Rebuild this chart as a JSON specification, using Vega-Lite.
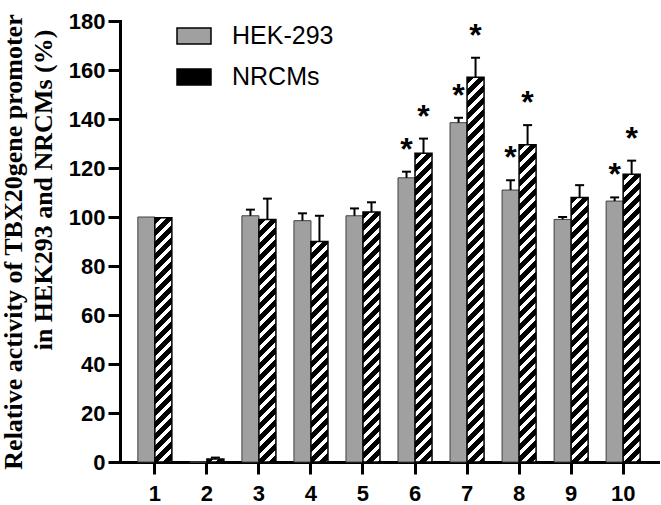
{
  "$schema": "https://vega.github.io/schema/vega-lite/v6.json",
  "width": 538,
  "height": 441,
  "autosize": {"type": "none"},
  "padding": {"left": 120, "top": 21, "right": 3, "bottom": 43},
  "background": "white",
  "params": [
    {"name": "stripes", "value": [
{"offset":0,"color":"#000"},{"offset":0.01716,"color":"#000"},{"offset":0.01716,"color":"#fff"},{"offset":0.02941,"color":"#fff"},
{"offset":0.02941,"color":"#000"},{"offset":0.04657,"color":"#000"},{"offset":0.04657,"color":"#fff"},{"offset":0.05882,"color":"#fff"},
{"offset":0.05882,"color":"#000"},{"offset":0.07598,"color":"#000"},{"offset":0.07598,"color":"#fff"},{"offset":0.08824,"color":"#fff"},
{"offset":0.08824,"color":"#000"},{"offset":0.10539,"color":"#000"},{"offset":0.10539,"color":"#fff"},{"offset":0.11765,"color":"#fff"},
{"offset":0.11765,"color":"#000"},{"offset":0.1348,"color":"#000"},{"offset":0.1348,"color":"#fff"},{"offset":0.14706,"color":"#fff"},
{"offset":0.14706,"color":"#000"},{"offset":0.16422,"color":"#000"},{"offset":0.16422,"color":"#fff"},{"offset":0.17647,"color":"#fff"},
{"offset":0.17647,"color":"#000"},{"offset":0.19363,"color":"#000"},{"offset":0.19363,"color":"#fff"},{"offset":0.20588,"color":"#fff"},
{"offset":0.20588,"color":"#000"},{"offset":0.22304,"color":"#000"},{"offset":0.22304,"color":"#fff"},{"offset":0.23529,"color":"#fff"},
{"offset":0.23529,"color":"#000"},{"offset":0.25245,"color":"#000"},{"offset":0.25245,"color":"#fff"},{"offset":0.26471,"color":"#fff"},
{"offset":0.26471,"color":"#000"},{"offset":0.28186,"color":"#000"},{"offset":0.28186,"color":"#fff"},{"offset":0.29412,"color":"#fff"},
{"offset":0.29412,"color":"#000"},{"offset":0.31127,"color":"#000"},{"offset":0.31127,"color":"#fff"},{"offset":0.32353,"color":"#fff"},
{"offset":0.32353,"color":"#000"},{"offset":0.34069,"color":"#000"},{"offset":0.34069,"color":"#fff"},{"offset":0.35294,"color":"#fff"},
{"offset":0.35294,"color":"#000"},{"offset":0.3701,"color":"#000"},{"offset":0.3701,"color":"#fff"},{"offset":0.38235,"color":"#fff"},
{"offset":0.38235,"color":"#000"},{"offset":0.39951,"color":"#000"},{"offset":0.39951,"color":"#fff"},{"offset":0.41176,"color":"#fff"},
{"offset":0.41176,"color":"#000"},{"offset":0.42892,"color":"#000"},{"offset":0.42892,"color":"#fff"},{"offset":0.44118,"color":"#fff"},
{"offset":0.44118,"color":"#000"},{"offset":0.45833,"color":"#000"},{"offset":0.45833,"color":"#fff"},{"offset":0.47059,"color":"#fff"},
{"offset":0.47059,"color":"#000"},{"offset":0.48775,"color":"#000"},{"offset":0.48775,"color":"#fff"},{"offset":0.5,"color":"#fff"},
{"offset":0.5,"color":"#000"},{"offset":0.51716,"color":"#000"},{"offset":0.51716,"color":"#fff"},{"offset":0.52941,"color":"#fff"},
{"offset":0.52941,"color":"#000"},{"offset":0.54657,"color":"#000"},{"offset":0.54657,"color":"#fff"},{"offset":0.55882,"color":"#fff"},
{"offset":0.55882,"color":"#000"},{"offset":0.57598,"color":"#000"},{"offset":0.57598,"color":"#fff"},{"offset":0.58824,"color":"#fff"},
{"offset":0.58824,"color":"#000"},{"offset":0.60539,"color":"#000"},{"offset":0.60539,"color":"#fff"},{"offset":0.61765,"color":"#fff"},
{"offset":0.61765,"color":"#000"},{"offset":0.6348,"color":"#000"},{"offset":0.6348,"color":"#fff"},{"offset":0.64706,"color":"#fff"},
{"offset":0.64706,"color":"#000"},{"offset":0.66422,"color":"#000"},{"offset":0.66422,"color":"#fff"},{"offset":0.67647,"color":"#fff"},
{"offset":0.67647,"color":"#000"},{"offset":0.69363,"color":"#000"},{"offset":0.69363,"color":"#fff"},{"offset":0.70588,"color":"#fff"},
{"offset":0.70588,"color":"#000"},{"offset":0.72304,"color":"#000"},{"offset":0.72304,"color":"#fff"},{"offset":0.73529,"color":"#fff"},
{"offset":0.73529,"color":"#000"},{"offset":0.75245,"color":"#000"},{"offset":0.75245,"color":"#fff"},{"offset":0.76471,"color":"#fff"},
{"offset":0.76471,"color":"#000"},{"offset":0.78186,"color":"#000"},{"offset":0.78186,"color":"#fff"},{"offset":0.79412,"color":"#fff"},
{"offset":0.79412,"color":"#000"},{"offset":0.81127,"color":"#000"},{"offset":0.81127,"color":"#fff"},{"offset":0.82353,"color":"#fff"},
{"offset":0.82353,"color":"#000"},{"offset":0.84069,"color":"#000"},{"offset":0.84069,"color":"#fff"},{"offset":0.85294,"color":"#fff"},
{"offset":0.85294,"color":"#000"},{"offset":0.8701,"color":"#000"},{"offset":0.8701,"color":"#fff"},{"offset":0.88235,"color":"#fff"},
{"offset":0.88235,"color":"#000"},{"offset":0.89951,"color":"#000"},{"offset":0.89951,"color":"#fff"},{"offset":0.91176,"color":"#fff"},
{"offset":0.91176,"color":"#000"},{"offset":0.92892,"color":"#000"},{"offset":0.92892,"color":"#fff"},{"offset":0.94118,"color":"#fff"},
{"offset":0.94118,"color":"#000"},{"offset":0.95833,"color":"#000"},{"offset":0.95833,"color":"#fff"},{"offset":0.97059,"color":"#fff"},
{"offset":0.97059,"color":"#000"},{"offset":0.98775,"color":"#000"},{"offset":0.98775,"color":"#fff"},{"offset":1,"color":"#fff"}
    ]}
  ],
  "data": {"values": [
    {"group": 1, "cell": "HEK-293", "value": 100, "upper": 100, "sig": false},
    {"group": 1, "cell": "NRCMs", "value": 99.7, "upper": 99.7, "sig": false},
    {"group": 2, "cell": "HEK-293", "value": 0, "upper": 0, "sig": false},
    {"group": 2, "cell": "NRCMs", "value": 1.2, "upper": 1.8, "sig": false},
    {"group": 3, "cell": "HEK-293", "value": 100.5, "upper": 103, "sig": false},
    {"group": 3, "cell": "NRCMs", "value": 99, "upper": 107.5, "sig": false},
    {"group": 4, "cell": "HEK-293", "value": 98.5, "upper": 101.5, "sig": false},
    {"group": 4, "cell": "NRCMs", "value": 90, "upper": 100.5, "sig": false},
    {"group": 5, "cell": "HEK-293", "value": 100.5, "upper": 103.5, "sig": false},
    {"group": 5, "cell": "NRCMs", "value": 102, "upper": 106, "sig": false},
    {"group": 6, "cell": "HEK-293", "value": 116, "upper": 118.5, "sig": true},
    {"group": 6, "cell": "NRCMs", "value": 126, "upper": 132, "sig": true},
    {"group": 7, "cell": "HEK-293", "value": 138.5, "upper": 140.5, "sig": true},
    {"group": 7, "cell": "NRCMs", "value": 157, "upper": 165, "sig": true},
    {"group": 8, "cell": "HEK-293", "value": 111, "upper": 115, "sig": true},
    {"group": 8, "cell": "NRCMs", "value": 129.5, "upper": 137.5, "sig": true},
    {"group": 9, "cell": "HEK-293", "value": 99, "upper": 100, "sig": false},
    {"group": 9, "cell": "NRCMs", "value": 108, "upper": 113, "sig": false},
    {"group": 10, "cell": "HEK-293", "value": 106.5, "upper": 108, "sig": true},
    {"group": 10, "cell": "NRCMs", "value": 117.5, "upper": 123, "sig": true}
  ]},
  "encoding": {
    "x": {"field": "group", "type": "ordinal", "scale": {"paddingInner": 0, "paddingOuter": 0.17}, "axis": {"title": null, "labelAngle": 0, "labelPadding": 9}},
    "xOffset": {"field": "cell", "type": "nominal", "scale": {"domain": ["HEK-293", "NRCMs"], "paddingInner": 0, "paddingOuter": 0.53}},
    "y": {"field": "value", "type": "quantitative", "scale": {"domain": [0, 180], "nice": false},
      "axis": {"values": [0, 20, 40, 60, 80, 100, 120, 140, 160, 180],
        "title": ["Relative activity of TBX20gene promoter", "\u200b\u00a0\u00a0\u00a0\u00a0\u00a0\u00a0\u00a0\u00a0\u00a0\u00a0\u00a0\u00a0\u00a0\u00a0\u00a0\u00a0in HEK293 and NRCMs (%)"]}}
  },
  "layer": [
    {
      "transform": [{"filter": "datum.cell === 'HEK-293'"}],
      "mark": {"type": "bar", "stroke": "#404040", "strokeWidth": 1},
      "encoding": {
        "fill": {"field": "cell", "type": "nominal",
          "scale": {"domain": ["HEK-293", "NRCMs"], "range": ["#a0a0a0", "#000000"]},
          "legend": {"orient": "none", "legendX": 56, "legendY": -3, "title": null, "padding": 0,
            "symbolType": "M-1,-0.47H1V0.47H-1Z", "symbolSize": 1156,
            "labelFont": "Liberation Sans", "labelFontSize": 25, "labelColor": "#000", "labelOffset": 20,
            "rowPadding": 10, "symbolStrokeColor": "#000", "symbolStrokeWidth": 1.5}
        }
      }
    },
    {
      "transform": [{"filter": "datum.cell === 'NRCMs'"}],
      "mark": {"type": "bar", "stroke": "#000", "strokeWidth": 1.5,
        "fill": {"expr": "{id: 'hatch' + datum.group, gradient: 'linear', x1: 0, y1: 0, x2: 408 * bandwidth('xOffset') / (pow(bandwidth('xOffset'), 2) + pow(scale('y', 0) - scale('y', datum.value), 2)), y2: 408 * (scale('y', 0) - scale('y', datum.value)) / (pow(bandwidth('xOffset'), 2) + pow(scale('y', 0) - scale('y', datum.value), 2)), stops: stripes}"}}
    },
    {
      "transform": [{"filter": "datum.upper > datum.value"}],
      "mark": {"type": "rule", "color": "#000", "strokeWidth": 2},
      "encoding": {"y2": {"field": "upper"}}
    },
    {
      "transform": [{"filter": "datum.upper > datum.value"}],
      "mark": {"type": "tick", "orient": "horizontal", "color": "#000", "size": 9, "thickness": 2, "opacity": 1},
      "encoding": {"y": {"field": "upper", "type": "quantitative"}}
    },
    {
      "transform": [{"filter": "datum.sig"}],
      "mark": {"type": "text", "text": "*", "font": "Liberation Sans", "fontWeight": "bold", "fontSize": 32, "color": "#000", "align": "center", "baseline": "alphabetic", "dy": -12},
      "encoding": {"y": {"field": "upper", "type": "quantitative"}}
    }
  ],
  "config": {
    "view": {"stroke": null},
    "axis": {"domainColor": "#000", "domainWidth": 3, "domainCap": "square", "tickColor": "#000", "tickWidth": 3, "tickSize": 12,
      "labelFont": "Liberation Sans", "labelFontWeight": "bold", "labelFontSize": 22, "labelColor": "#000", "grid": false},
    "axisY": {"labelPadding": 3, "titleFont": "Liberation Serif", "titleFontWeight": "bold", "titleFontSize": 26, "titleColor": "#000",
      "titleLineHeight": 30, "titleX": -98.5, "titleY": 220.5, "titleAngle": -90, "titleAlign": "center", "titleBaseline": "alphabetic"}
  }
}
